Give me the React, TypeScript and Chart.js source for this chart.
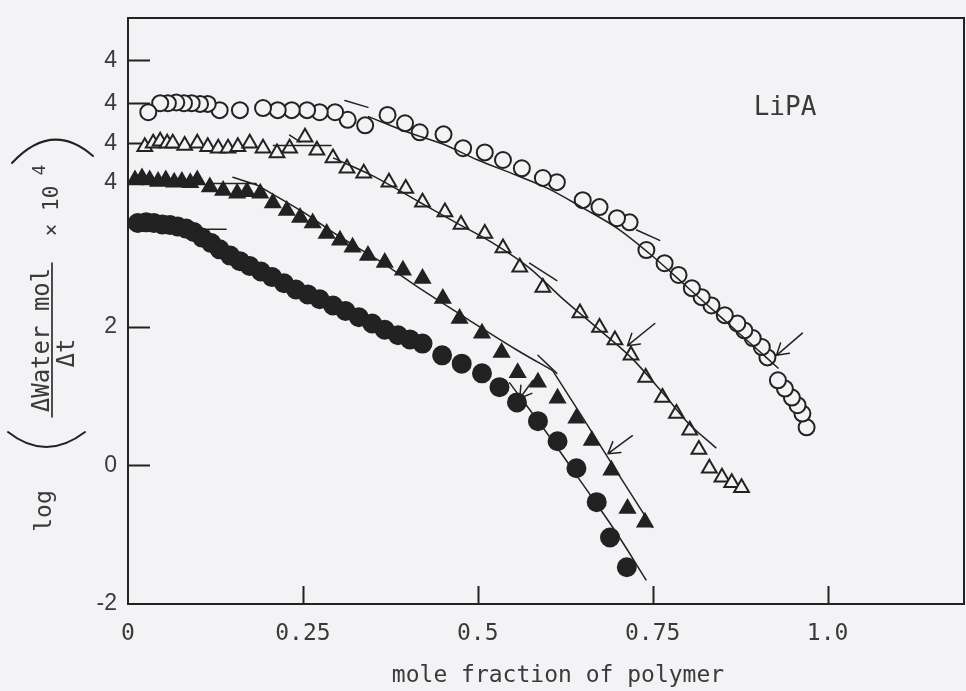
import { useEffect, useRef } from 'react';
import { Chart, registerables } from 'chart.js';

Chart.register(...registerables);

// ---- axis ticks ----
const xTickValues = [0, 0.25, 0.5, 0.75, 1.0];
const xTickLabels = ['0', '0.25', '0.5', '0.75', '1.0'];
const yTickValues = [-2, 0, 2, 4.09, 4.65, 5.23, 5.85];
const yTickLabels = ['-2', '0', '2', '4', '4', '4', '4'];

// ---- open circles ----
const openCircleX = [0.029, 0.046, 0.057, 0.069, 0.080, 0.091, 0.103, 0.114, 0.131, 0.160, 0.193, 0.214, 0.234, 0.256, 0.274, 0.296, 0.314, 0.339, 0.371, 0.396, 0.417, 0.451, 0.479, 0.510, 0.536, 0.563, 0.593, 0.613, 0.650, 0.674, 0.699, 0.717, 0.741, 0.767, 0.787, 0.806, 0.820, 0.834, 0.853, 0.871, 0.881, 0.893, 0.906, 0.914, 0.929, 0.939, 0.949, 0.957, 0.964, 0.970];
const openCircleY = [5.10, 5.23, 5.23, 5.24, 5.23, 5.23, 5.22, 5.22, 5.13, 5.13, 5.16, 5.13, 5.13, 5.13, 5.10, 5.10, 4.99, 4.91, 5.06, 4.94, 4.81, 4.78, 4.58, 4.52, 4.41, 4.29, 4.15, 4.09, 3.83, 3.73, 3.57, 3.51, 3.11, 2.92, 2.75, 2.56, 2.43, 2.31, 2.17, 2.05, 1.95, 1.84, 1.71, 1.56, 1.23, 1.11, 0.98, 0.87, 0.75, 0.55];
const openCircleFitX = [0.343, 0.40, 0.45, 0.50, 0.55, 0.60, 0.65, 0.70, 0.75, 0.80, 0.85, 0.90, 0.93];
const openCircleFitY = [5.04, 4.81, 4.64, 4.41, 4.21, 4.00, 3.72, 3.42, 3.02, 2.57, 2.12, 1.67, 1.40];

// ---- open triangles ----
const openTriX = [0.024, 0.036, 0.046, 0.056, 0.064, 0.081, 0.099, 0.114, 0.129, 0.143, 0.157, 0.174, 0.193, 0.213, 0.231, 0.253, 0.270, 0.293, 0.313, 0.337, 0.373, 0.397, 0.421, 0.453, 0.476, 0.510, 0.536, 0.560, 0.593, 0.646, 0.674, 0.696, 0.719, 0.740, 0.764, 0.784, 0.803, 0.816, 0.831, 0.849, 0.863, 0.877];
const openTriY = [4.60, 4.65, 4.68, 4.65, 4.65, 4.62, 4.65, 4.60, 4.58, 4.58, 4.60, 4.65, 4.58, 4.51, 4.58, 4.74, 4.55, 4.44, 4.29, 4.22, 4.09, 4.00, 3.80, 3.66, 3.48, 3.35, 3.14, 2.86, 2.57, 2.20, 1.99, 1.81, 1.59, 1.27, 0.98, 0.75, 0.51, 0.23, -0.04, -0.17, -0.25, -0.32];
const openTriFlatX = [0.207, 0.291];
const openTriFlatY = [4.62, 4.62];
const openTriFitX = [0.293, 0.35, 0.417, 0.47, 0.52, 0.574, 0.62, 0.67, 0.72, 0.77, 0.80, 0.841];
const openTriFitY = [4.44, 4.18, 3.80, 3.50, 3.22, 2.85, 2.42, 1.99, 1.55, 0.98, 0.62, 0.25];

// ---- filled triangles ----
const fillTriX = [0.010, 0.020, 0.031, 0.043, 0.054, 0.066, 0.077, 0.089, 0.099, 0.117, 0.136, 0.156, 0.170, 0.189, 0.207, 0.227, 0.246, 0.264, 0.284, 0.303, 0.321, 0.343, 0.367, 0.393, 0.421, 0.450, 0.474, 0.506, 0.534, 0.557, 0.586, 0.614, 0.641, 0.663, 0.691, 0.714, 0.739];
const fillTriY = [4.12, 4.15, 4.12, 4.10, 4.12, 4.09, 4.10, 4.08, 4.12, 4.02, 3.97, 3.93, 3.95, 3.93, 3.79, 3.68, 3.58, 3.50, 3.35, 3.25, 3.15, 3.03, 2.93, 2.82, 2.70, 2.41, 2.12, 1.91, 1.63, 1.34, 1.20, 0.97, 0.68, 0.36, -0.07, -0.62, -0.82];
const fillTriFlatX = [0.113, 0.184];
const fillTriFlatY = [4.07, 4.07];
const fillTriFitX = [0.184, 0.25, 0.30, 0.36, 0.421, 0.50, 0.557, 0.607];
const fillTriFitY = [4.05, 3.66, 3.32, 2.95, 2.53, 2.02, 1.66, 1.37];
const fillTriSteepX = [0.607, 0.65, 0.70, 0.75];
const fillTriSteepY = [1.37, 0.69, -0.11, -0.90];

// ---- filled circles ----
const fillCircleX = [0.014, 0.026, 0.037, 0.049, 0.060, 0.071, 0.083, 0.094, 0.106, 0.119, 0.131, 0.146, 0.160, 0.174, 0.190, 0.206, 0.223, 0.240, 0.257, 0.274, 0.293, 0.311, 0.330, 0.349, 0.367, 0.386, 0.403, 0.421, 0.449, 0.477, 0.506, 0.531, 0.556, 0.586, 0.614, 0.641, 0.670, 0.689, 0.713];
const fillCircleY = [3.50, 3.51, 3.50, 3.48, 3.47, 3.45, 3.42, 3.37, 3.29, 3.21, 3.12, 3.03, 2.95, 2.88, 2.80, 2.72, 2.63, 2.54, 2.47, 2.40, 2.31, 2.23, 2.14, 2.05, 1.96, 1.88, 1.82, 1.76, 1.59, 1.47, 1.33, 1.13, 0.91, 0.64, 0.35, -0.04, -0.53, -1.04, -1.47];
const fillCircleFlatX = [0.113, 0.141];
const fillCircleFlatY = [3.41, 3.41];
const fillCircleFitX = [0.545, 0.60, 0.65, 0.70, 0.741];
const fillCircleFitY = [1.20, 0.45, -0.27, -1.00, -1.66];

// ---- arrows (tail -> head) and short break slashes, in data units ----
const arrowTails = [[0.964, 1.91], [0.753, 2.05], [0.721, 0.43], [0.579, 1.23]];
const arrowHeads = [[0.927, 1.59], [0.714, 1.73], [0.686, 0.17], [0.560, 0.97]];
const breakMarks = [
  [0.310, 5.27, 0.343, 5.17],
  [0.727, 3.40, 0.760, 3.25],
  [0.231, 4.77, 0.246, 4.67],
  [0.574, 2.92, 0.613, 2.67],
  [0.150, 4.16, 0.184, 4.05],
  [0.586, 1.59, 0.613, 1.33],
];

const PAPER = '#f3f3f5';
const INK = '#222222';
const TEXT = '#3a3a3a';
const MONO = '"DejaVu Sans Mono", "Liberation Mono", monospace';
const SANS = '"Liberation Sans", Arial, sans-serif';

const pts = (xs: number[], ys: number[]) => xs.map((x, i) => ({ x, y: ys[i] }));

const markerSet = (xs: number[], ys: number[], style: string, radius: number, filled: boolean, reverse = false) => {
  const data = pts(xs, ys);
  return {
    type: 'scatter' as const,
    data: reverse ? data.reverse() : data,
    showLine: false,
    pointStyle: style,
    pointRadius: radius,
    pointBorderWidth: 2,
    pointBorderColor: INK,
    pointBackgroundColor: filled ? INK : PAPER,
    order: 2,
  };
};

const fitLine = (xs: number[], ys: number[], smooth = true) => ({
  type: 'line' as const,
  data: pts(xs, ys),
  borderColor: INK,
  borderWidth: 1.5,
  pointRadius: 0,
  fill: false,
  cubicInterpolationMode: smooth ? ('monotone' as const) : ('default' as const),
  order: 1,
});

const rotatedText = (ctx: CanvasRenderingContext2D, text: string, x: number, y: number, font: string) => {
  ctx.save();
  ctx.translate(x, y);
  ctx.rotate(-Math.PI / 2);
  ctx.font = font;
  ctx.textAlign = 'center';
  ctx.textBaseline = 'middle';
  ctx.fillText(text, 0, 0);
  ctx.restore();
};

// scales keep no extra room for their end labels; the frame is placed by layout padding alone
const noScalePadding = (s: any) => {
  s.paddingTop = 0;
  s.paddingBottom = 0;
  s.paddingLeft = 0;
  s.paddingRight = 0;
};

const decorations = {
  id: 'decorations',
  beforeDatasetsDraw(chart: any) {
    const { ctx, chartArea: a, scales } = chart;
    const xs = scales.x;
    const ys = scales.y;
    ctx.save();
    ctx.strokeStyle = INK;
    ctx.lineWidth = 2;
    ctx.strokeRect(a.left, a.top, a.right - a.left, a.bottom - a.top);
    // inward tick marks
    ctx.beginPath();
    xTickValues.forEach((v) => {
      if (v === xs.min) return;
      const px = Math.round(xs.getPixelForValue(v)) + 0.5;
      ctx.moveTo(px, a.bottom);
      ctx.lineTo(px, a.bottom - 18);
    });
    yTickValues.forEach((v) => {
      if (v === ys.min) return;
      const py = Math.round(ys.getPixelForValue(v)) + 0.5;
      ctx.moveTo(a.left, py);
      ctx.lineTo(a.left + 22, py);
    });
    ctx.stroke();
    ctx.restore();
  },
  afterDatasetsDraw(chart: any) {
    const { ctx, scales } = chart;
    const X = (v: number) => scales.x.getPixelForValue(v);
    const Y = (v: number) => scales.y.getPixelForValue(v);
    ctx.save();
    ctx.strokeStyle = INK;
    ctx.lineWidth = 1.5;
    ctx.lineCap = 'round';
    breakMarks.forEach(([x1, y1, x2, y2]) => {
      ctx.beginPath();
      ctx.moveTo(X(x1), Y(y1));
      ctx.lineTo(X(x2), Y(y2));
      ctx.stroke();
    });
    arrowTails.forEach((t, i) => {
      const h = arrowHeads[i];
      const tx = X(t[0]), ty = Y(t[1]), hx = X(h[0]), hy = Y(h[1]);
      const ang = Math.atan2(hy - ty, hx - tx);
      ctx.beginPath();
      ctx.moveTo(tx, ty);
      ctx.lineTo(hx, hy);
      const wing = 13;
      [0.55, -0.55].forEach((d) => {
        ctx.moveTo(hx, hy);
        ctx.lineTo(hx - wing * Math.cos(ang + d), hy - wing * Math.sin(ang + d));
      });
      ctx.stroke();
    });

    // series label
    ctx.fillStyle = TEXT;
    ctx.font = `26px ${MONO}`;
    ctx.textAlign = 'center';
    ctx.textBaseline = 'middle';
    ctx.fillText('LiPA', 785, 108);

    // x-axis title
    ctx.font = `23px ${MONO}`;
    ctx.textBaseline = 'alphabetic';
    ctx.fillText('mole fraction of polymer', 558, 682);

    // y-axis title: log ( ΔWater mol / Δt  × 10^4 )
    rotatedText(ctx, 'log', 45, 511, `23px ${MONO}`);
    rotatedText(ctx, 'ΔWater mol', 43, 340, `24px ${MONO}`);
    rotatedText(ctx, 'Δt', 68, 353, `24px ${MONO}`);
    rotatedText(ctx, '× 10', 53, 211, `21px ${MONO}`);
    rotatedText(ctx, '4', 40, 170, `18px ${MONO}`);
    ctx.lineWidth = 1.6;
    ctx.beginPath();
    ctx.moveTo(52, 263);
    ctx.lineTo(52, 417);
    ctx.stroke();
    ctx.lineWidth = 2;
    ctx.beginPath();
    ctx.moveTo(8, 432);
    ctx.quadraticCurveTo(46, 462, 85, 432);
    ctx.stroke();
    ctx.beginPath();
    ctx.moveTo(12, 163);
    ctx.quadraticCurveTo(52, 120, 93, 156);
    ctx.stroke();
    ctx.restore();
  },
};

export default function App() {
  const canvasRef = useRef<HTMLCanvasElement>(null);

  useEffect(() => {
    const canvas = canvasRef.current;
    if (!canvas) return;
    const chart = new Chart(canvas, {
      type: 'scatter',
      data: {
        datasets: [
          markerSet(openCircleX, openCircleY, 'circle', 8, false, true),
          markerSet(openTriX, openTriY, 'triangle', 8.5, false),
          markerSet(fillTriX, fillTriY, 'triangle', 8.5, true),
          markerSet(fillCircleX, fillCircleY, 'circle', 9, true),
          fitLine(openCircleFitX, openCircleFitY),
          fitLine(openTriFlatX, openTriFlatY, false),
          fitLine(openTriFitX, openTriFitY),
          fitLine(fillTriFlatX, fillTriFlatY, false),
          fitLine(fillTriFitX, fillTriFitY),
          fitLine(fillTriSteepX, fillTriSteepY, false),
          fitLine(fillCircleFlatX, fillCircleFlatY, false),
          fitLine(fillCircleFitX, fillCircleFitY),
        ] as any,
      },
      options: {
        responsive: false,
        animation: false,
        devicePixelRatio: 1,
        events: [],
        layout: { autoPadding: false, padding: { top: 18, right: 2, left: 0, bottom: 0 } },
        plugins: { legend: { display: false }, tooltip: { enabled: false } },
        scales: {
          x: {
            type: 'linear',
            min: 0,
            max: 1.195,
            grid: { display: false, drawTicks: false },
            border: { display: false },
            afterBuildTicks: (s: any) => {
              s.ticks = xTickValues.map((v) => ({ value: v }));
            },
            afterFit: (s: any) => {
              s.height = 87;
              noScalePadding(s);
            },
            ticks: {
              autoSkip: false,
              maxRotation: 0,
              padding: 16,
              color: TEXT,
              font: { family: MONO, size: 23 },
              callback: (_v: any, i: number) => xTickLabels[i],
            },
          },
          y: {
            type: 'linear',
            min: -2,
            max: 6.46,
            grid: { display: false, drawTicks: false },
            border: { display: false },
            afterBuildTicks: (s: any) => {
              s.ticks = yTickValues.map((v) => ({ value: v }));
            },
            afterFit: (s: any) => {
              s.width = 128;
              noScalePadding(s);
            },
            ticks: {
              autoSkip: false,
              padding: 11,
              color: TEXT,
              font: { family: SANS, size: 23 },
              callback: (_v: any, i: number) => yTickLabels[i],
            },
          },
        },
      },
      plugins: [decorations],
    });
    return () => chart.destroy();
  }, []);

  return (
    <div style={{ position: 'fixed', left: 0, top: 0, width: 966, height: 691, background: PAPER }}>
      <canvas ref={canvasRef} width={966} height={691} style={{ display: 'block', width: 966, height: 691 }} />
    </div>
  );
}
